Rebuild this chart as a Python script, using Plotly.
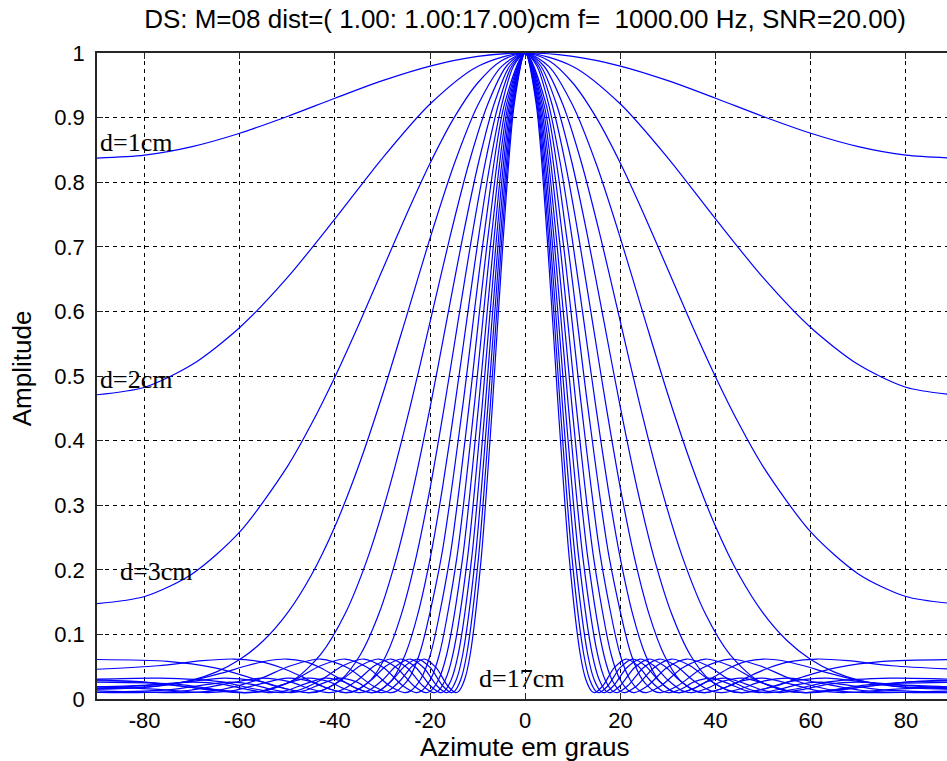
import plotly.graph_objects as go

# Beam pattern values (azimuth >= 0 side; pattern is symmetric)
theta_d1 = [0, 10, 20, 30, 40, 50, 60, 70, 80, 90]
amp_d1 = [1, 0.99475, 0.97976, 0.95715, 0.92998, 0.90175, 0.87585, 0.85518, 0.84190, 0.83733]

theta_d2 = [0, 10, 20, 30, 40, 50, 60, 70, 80, 90]
amp_d2 = [1, 0.97914, 0.92101, 0.83733, 0.74309, 0.65224, 0.57506, 0.51765, 0.48267, 0.47095]

theta_d3 = [0, 5, 10, 15, 20, 25, 30, 35, 40, 45, 50, 60, 70, 80, 90]
amp_d3 = [1, 0.98813, 0.95355, 0.89918, 0.82937, 0.74934, 0.66439, 0.57947, 0.49863, 0.42479,
          0.35975, 0.25859, 0.19367, 0.15859, 0.14762]

theta_d4 = [0, 5, 10, 15, 20, 25, 30, 35, 40, 45, 50, 55, 60, 65, 70, 80, 90]
amp_d4 = [1, 0.97898, 0.91864, 0.82652, 0.71342, 0.59124, 0.47095, 0.36113, 0.26710, 0.19112,
          0.13292, 0.09051, 0.06107, 0.04158, 0.02929, 0.01781, 0.01517]

theta_d5 = [0, 3.913, 7.844, 11.813, 15.840, 19.949, 24.169, 28.533, 33.086, 37.890, 43.030,
            48.640, 54.970, 59.040, 64.255, 72.810, 79.300, 90]
amp_d5 = [1, 0.97986, 0.92138, 0.83013, 0.71463, 0.58523, 0.45291, 0.32797, 0.21888, 0.13147,
          0.06852, 0.02974, 0.01220, 0.0099, 0.01230, 0.02051, 0.02591, 0.02958]

theta_d6 = [0, 3.260, 6.530, 9.822, 13.147, 16.519, 19.949, 23.457, 27.060, 30.783, 34.656,
            38.720, 43.030, 45.609, 52.760, 58.536, 65.483, 75.173, 90]
amp_d6 = [1, 0.97986, 0.92138, 0.83013, 0.71463, 0.58523, 0.45291, 0.32797, 0.21888, 0.13147,
          0.06852, 0.02974, 0.01220, 0.0099, 0.02051, 0.03466, 0.04845, 0.05818, 0.06113]

theta_d7 = [0, 2.794, 5.594, 8.408, 11.243, 14.105, 17.005, 19.949, 22.950, 26.019, 29.171,
            32.422, 35.796, 37.771, 43.030, 46.980, 51.248, 55.955, 61.323, 67.833, 77.116, 90]
amp_d7 = [1, 0.97986, 0.92138, 0.83013, 0.71463, 0.58523, 0.45291, 0.32797, 0.21888, 0.13147,
          0.06852, 0.02974, 0.01220, 0.0099, 0.02051, 0.03466, 0.04845, 0.05818, 0.06188,
          0.05926, 0.05145, 0.04606]

theta_d8 = [0, 2.444, 4.893, 7.351, 9.822, 12.313, 14.826, 17.370, 19.949, 22.572, 25.245,
            27.978, 30.783, 32.408, 36.661, 39.772, 43.030, 46.471, 50.146, 54.128, 58.536,
            63.589, 69.763, 78.790, 90]
amp_d8 = [1, 0.97986, 0.92138, 0.83013, 0.71463, 0.58523, 0.45291, 0.32797, 0.21888, 0.13147,
          0.06852, 0.02974, 0.01220, 0.0099, 0.02051, 0.03466, 0.04845, 0.05818, 0.06188,
          0.05926, 0.05145, 0.04056, 0.02902, 0.01912, 0.01568]

theta_d9 = [0, 4.348, 8.722, 13.147, 17.655, 22.278, 24.646, 27.060, 28.450, 32.055, 37.341,
            43.030, 49.306, 56.514, 65.483, 72.322, 90]
amp_d9 = [1, 0.92138, 0.71463, 0.45291, 0.21888, 0.06852, 0.02974, 0.01220, 0.0099, 0.02051,
          0.04845, 0.06188, 0.05145, 0.02902, 0.01250, 0.0099, 0.0126]

theta_d10 = [0, 3.913, 7.844, 11.813, 15.840, 19.949, 22.043, 24.169, 25.388, 28.533, 33.086,
             37.890, 43.030, 48.640, 54.970, 59.040, 67.103, 81.667, 90]
amp_d10 = [1, 0.92138, 0.71463, 0.45291, 0.21888, 0.06852, 0.02974, 0.01220, 0.0099, 0.02051,
           0.04845, 0.06188, 0.05145, 0.02902, 0.01250, 0.0099, 0.01551, 0.02681, 0.02828]

theta_d11 = [0, 3.557, 7.127, 10.725, 14.367, 18.070, 19.949, 21.852, 22.940, 25.738, 29.754,
             33.939, 38.341, 43.030, 48.109, 51.219, 56.873, 64.092, 76.891, 90]
amp_d11 = [1, 0.92138, 0.71463, 0.45291, 0.21888, 0.06852, 0.02974, 0.01220, 0.0099, 0.02051,
           0.04845, 0.06188, 0.05145, 0.02902, 0.01250, 0.0099, 0.01551, 0.02681, 0.03229,
           0.03063]

theta_d12 = [0, 3.260, 6.530, 9.822, 13.147, 16.519, 18.225, 19.949, 20.934, 23.457, 27.060,
             30.783, 34.656, 38.720, 43.030, 45.609, 50.146, 55.542, 63.225, 73.949, 90]
amp_d12 = [1, 0.92138, 0.71463, 0.45291, 0.21888, 0.06852, 0.02974, 0.01220, 0.0099, 0.02051,
           0.04845, 0.06188, 0.05145, 0.02902, 0.01250, 0.0099, 0.01551, 0.02681, 0.03229,
           0.02388, 0.0167]

theta_d13 = [0, 3.009, 6.026, 9.060, 12.120, 15.216, 16.780, 18.358, 19.257, 21.557, 24.830,
             28.191, 31.662, 35.268, 39.042, 41.271, 45.123, 49.562, 55.498, 62.510, 70.879,
             81.665, 90]
amp_d13 = [1, 0.92138, 0.71463, 0.45291, 0.21888, 0.06852, 0.02974, 0.01220, 0.0099, 0.02051,
           0.04845, 0.06188, 0.05145, 0.02902, 0.01250, 0.0099, 0.01551, 0.02681, 0.03229,
           0.02388, 0.01313, 0.0099, 0.01008]

theta_d14 = [0, 2.794, 5.594, 8.408, 11.243, 14.105, 15.550, 17.005, 17.833, 19.949, 22.950,
             26.019, 29.171, 32.422, 35.796, 37.771, 41.148, 44.971, 49.928, 55.460, 61.323,
             66.746, 77.116, 90]
amp_d14 = [1, 0.92138, 0.71463, 0.45291, 0.21888, 0.06852, 0.02974, 0.01220, 0.0099, 0.02051,
           0.04845, 0.06188, 0.05145, 0.02902, 0.01250, 0.0099, 0.01551, 0.02681, 0.03229,
           0.02388, 0.01313, 0.0099, 0.01499, 0.01912]

theta_d15 = [0, 2.607, 5.220, 7.844, 10.484, 13.147, 14.490, 15.840, 16.609, 18.569, 21.342,
             24.169, 27.060, 30.027, 33.086, 34.866, 37.890, 41.272, 45.588, 50.248, 54.970,
             59.040, 65.483, 72.810, 90]
amp_d15 = [1, 0.92138, 0.71463, 0.45291, 0.21888, 0.06852, 0.02974, 0.01220, 0.0099, 0.02051,
           0.04845, 0.06188, 0.05145, 0.02902, 0.01250, 0.0099, 0.01551, 0.02681, 0.03229,
           0.02388, 0.01313, 0.0099, 0.01499, 0.02271, 0.02599]

theta_d16 = [0, 2.444, 4.893, 7.351, 9.822, 12.313, 13.566, 14.826, 15.544, 17.370, 19.949,
             22.572, 25.245, 27.978, 30.783, 32.408, 35.153, 38.200, 42.035, 46.117, 50.146,
             53.509, 58.536, 63.589, 69.763, 78.790, 90]
amp_d16 = [1, 0.92138, 0.71463, 0.45291, 0.21888, 0.06852, 0.02974, 0.01220, 0.0099, 0.02051,
           0.04845, 0.06188, 0.05145, 0.02902, 0.01250, 0.0099, 0.01551, 0.02681, 0.03229,
           0.02388, 0.01313, 0.0099, 0.01499, 0.02271, 0.02598, 0.02198, 0.01862]

theta_d17 = [0, 2.300, 4.605, 6.916, 9.239, 11.578, 12.754, 13.936, 14.608, 16.319, 18.731,
             21.178, 23.666, 26.202, 28.795, 30.292, 32.812, 35.593, 39.065, 42.716, 46.263,
             49.167, 53.398, 57.452, 62.016, 67.401, 74.442, 90]
amp_d17 = [1, 0.92138, 0.71463, 0.45291, 0.21888, 0.06852, 0.02974, 0.01220, 0.0099, 0.02051,
           0.04845, 0.06188, 0.05145, 0.02902, 0.01250, 0.0099, 0.01551, 0.02681, 0.03229,
           0.02388, 0.01313, 0.0099, 0.01499, 0.02271, 0.02598, 0.02198, 0.01438, 0.01019]

curves = [
    (theta_d1, amp_d1), (theta_d2, amp_d2), (theta_d3, amp_d3), (theta_d4, amp_d4),
    (theta_d5, amp_d5), (theta_d6, amp_d6), (theta_d7, amp_d7), (theta_d8, amp_d8),
    (theta_d9, amp_d9), (theta_d10, amp_d10), (theta_d11, amp_d11), (theta_d12, amp_d12),
    (theta_d13, amp_d13), (theta_d14, amp_d14), (theta_d15, amp_d15), (theta_d16, amp_d16),
    (theta_d17, amp_d17),
]

x_ticks = [-80, -60, -40, -20, 0, 20, 40, 60, 80]
x_tick_text = ["-80", "-60", "-40", "-20", "0", "20", "40", "60", "80"]
y_ticks = [0, 0.1, 0.2, 0.3, 0.4, 0.5, 0.6, 0.7, 0.8, 0.9, 1]
y_tick_text = ["0", "0.1", "0.2", "0.3", "0.4", "0.5", "0.6", "0.7", "0.8", "0.9", "1"]

title_text = "DS: M=08 dist=( 1.00: 1.00:17.00)cm f=  1000.00 Hz, SNR=20.00)"

fig = go.Figure()
for th, am in curves:
    xs = [-t for t in th[:0:-1]] + list(th)
    ys = list(am[:0:-1]) + list(am)
    fig.add_trace(go.Scatter(
        x=xs, y=ys, mode="lines",
        line=dict(color="#0000ff", width=1.2, shape="spline", smoothing=0.8),
        showlegend=False, hoverinfo="skip",
    ))

axis_font = dict(family="Liberation Sans, Arial, sans-serif", size=22, color="#000000")
fig.update_layout(
    width=947, height=761,
    margin=dict(l=97, r=0, t=53, b=62, autoexpand=False),
    paper_bgcolor="white", plot_bgcolor="white",
    showlegend=False,
    title=dict(text=title_text, x=0.5035, xref="paper", xanchor="center",
               y=1 - 19 / 761, yref="container", yanchor="middle",
               font=dict(family="Liberation Sans, Arial, sans-serif", size=26, color="#000000")),
    xaxis=dict(range=[-90, 88.64], tickvals=x_ticks, ticktext=x_tick_text, ticks="inside",
               ticklen=6, tickcolor="#262626", showline=True, linecolor="#262626",
               linewidth=1.5, mirror="ticks", showgrid=True, gridcolor="#000000",
               gridwidth=1, griddash="4px,4px", zeroline=False, tickfont=axis_font,
               ticklabelstandoff=1, automargin=False),
    yaxis=dict(range=[0, 1], tickvals=y_ticks, ticktext=y_tick_text, ticks="inside",
               ticklen=6, tickcolor="#262626", showline=True, linecolor="#262626",
               linewidth=1.5, mirror=False, showgrid=True, gridcolor="#000000",
               gridwidth=1, griddash="4px,4px", zeroline=False, tickfont=axis_font,
               ticklabelstandoff=6, automargin=False),
)

label_font = dict(family="Liberation Sans, Arial, sans-serif", size=26, color="#000000")
fig.add_annotation(text="Azimute em graus", xref="paper", yref="paper",
                   x=0.5035, y=-0.0745, xanchor="center", yanchor="middle",
                   showarrow=False, font=label_font)
fig.add_annotation(text="Amplitude", xref="paper", yref="paper",
                   x=-0.0882, y=0.512, xanchor="center", yanchor="middle",
                   textangle=-90, showarrow=False, font=label_font)

serif = dict(family="Liberation Serif, Times New Roman, serif", size=26, color="#000000")
fig.add_annotation(text="d=1cm", x=-89.8, y=0.861, xanchor="left", yanchor="middle",
                   showarrow=False, font=serif)
fig.add_annotation(text="d=2cm", x=-89.8, y=0.494, xanchor="left", yanchor="middle",
                   showarrow=False, font=serif)
fig.add_annotation(text="d=3cm", x=-85.6, y=0.197, xanchor="left", yanchor="middle",
                   showarrow=False, font=serif)
fig.add_annotation(text="d=17cm", x=-10.2, y=0.031, xanchor="left", yanchor="middle",
                   showarrow=False, font=serif)

fig.write_html("out.html", config={"displayModeBar": False},
               post_script="document.body.style.margin='0px';")
